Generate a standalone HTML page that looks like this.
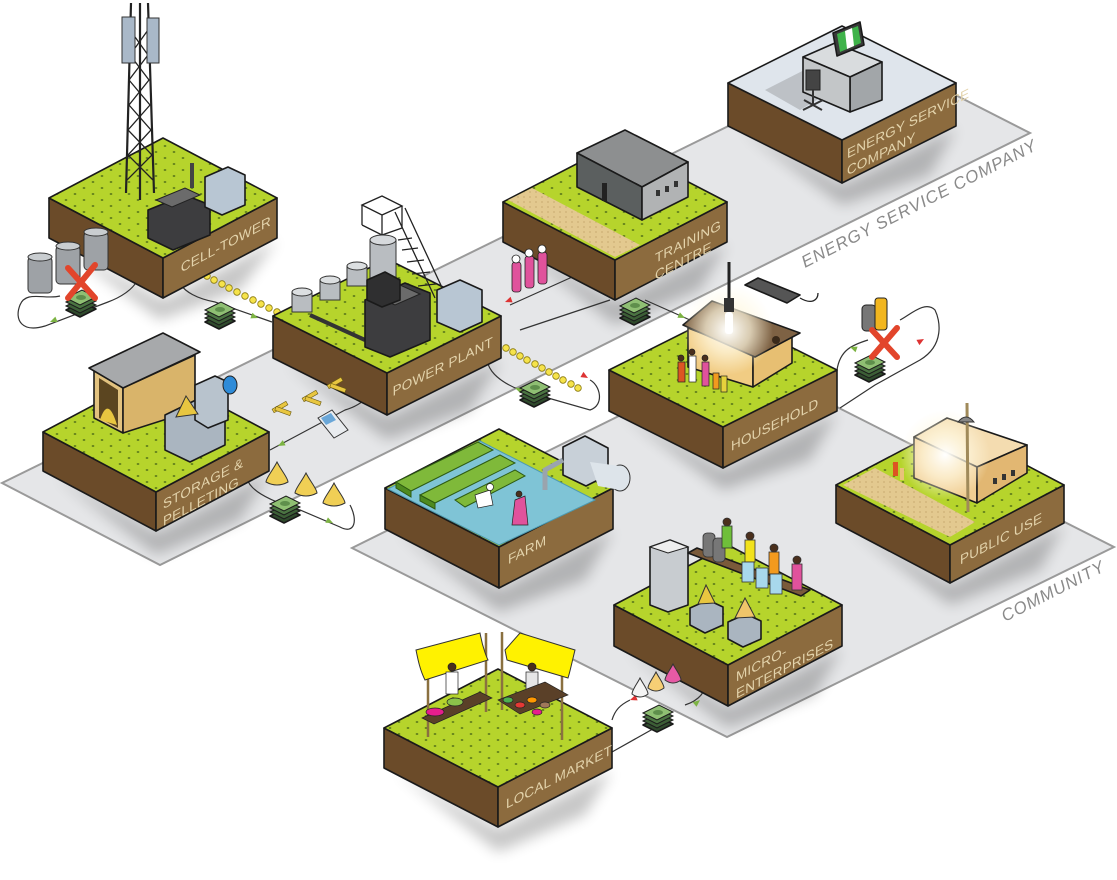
<!DOCTYPE html>
<html><head><meta charset="utf-8"><style>
html,body{margin:0;padding:0;background:#fff;}
svg{display:block;}
.lbl{font-family:"Liberation Sans",sans-serif;font-size:13.5px;fill:#e3d3ab;letter-spacing:0.2px;}
.pl{font-family:"Liberation Sans",sans-serif;font-size:17px;fill:#8a8a8a;font-style:italic;letter-spacing:1px;}
.e{stroke:#1a1a1a;stroke-width:1.6;stroke-linejoin:round;}
.con{fill:none;stroke:#333;stroke-width:1.2;}
</style></head><body>
<svg width="1117" height="880" viewBox="0 0 1117 880" xmlns="http://www.w3.org/2000/svg">
<defs>
<pattern id="gr" width="18" height="12" patternUnits="userSpaceOnUse">
<rect width="18" height="12" fill="#b6d42c"/>
<ellipse cx="3" cy="2" rx="1.4" ry="0.9" fill="#55721a"/>
<ellipse cx="12" cy="8" rx="1.4" ry="0.9" fill="#55721a"/>
</pattern>
<pattern id="sand" width="6" height="5" patternUnits="userSpaceOnUse">
<rect width="6" height="5" fill="#e3c98f"/><circle cx="2" cy="2" r="0.6" fill="#b8955a"/>
</pattern>
<filter id="bl" x="-20%" y="-20%" width="140%" height="160%"><feGaussianBlur stdDeviation="7"/></filter>
<radialGradient id="glow"><stop offset="0" stop-color="#fff" stop-opacity="1"/><stop offset="0.5" stop-color="#fff8e0" stop-opacity="0.7"/><stop offset="1" stop-color="#fff8e0" stop-opacity="0"/></radialGradient>
<g id="money">
<polygon points="0,10 16,2 30,9 14,17" fill="#2f4a2c" class="e" stroke-width="1"/>
<polygon points="0,6 16,-2 30,5 14,13" fill="#3c5e36" stroke="#1a1a1a" stroke-width="1"/>
<polygon points="0,2 16,-6 30,1 14,9" fill="#4b7442" stroke="#1a1a1a" stroke-width="1"/>
<polygon points="0,-2 16,-10 30,-3 14,5" fill="#8fbf73" stroke="#1a1a1a" stroke-width="1"/>
<ellipse cx="15" cy="-2.5" rx="5" ry="2.5" fill="#5f8f4c"/>
</g>
<g id="bead"><circle r="3.3" fill="#f6e34a" stroke="#8a7a10" stroke-width="0.8"/></g>
<g id="cone"><path d="M0,-14 C-4,-6 -11,2 -11,6 Q0,12 11,6 C11,2 4,-6 0,-14Z" fill="#f0cf55" stroke="#333" stroke-width="1"/></g>
<g id="ah"><polygon points="0,0 -7,-3 -7,3" fill="#7cb342"/></g>
<g id="ahr"><polygon points="0,0 -7,-3 -7,3" fill="#d33"/></g>
</defs>

<polygon points="2,483 160,565 1030,133 875,54" fill="#e5e6e8" stroke="#9a9a9a" stroke-width="2"/>
<polygon points="352,548 727,737 1114,547 738,357" fill="#e5e6e8" stroke="#9a9a9a" stroke-width="2"/>
<text class="pl" transform="translate(805,268) rotate(-27)">ENERGY SERVICE COMPANY</text>
<text class="pl" transform="translate(1005,622) rotate(-27)">COMMUNITY</text>

<g filter="url(#bl)" fill="#000" opacity="0.22">
<polygon points="60,245 163,300 277,240 240,290 160,320"/>
<polygon points="285,362 387,417 501,360 470,410 387,440"/>
<polygon points="55,475 156,533 269,473 240,520 156,555"/>
<polygon points="515,245 615,302 727,244 700,290 615,325"/>
<polygon points="740,128 842,185 956,128 930,175 842,205"/>
<polygon points="620,412 723,470 837,413 810,460 723,490"/>
<polygon points="396,530 499,590 613,530 585,580 499,612"/>
<polygon points="625,648 728,708 842,648 815,695 728,728"/>
<polygon points="395,770 498,829 612,770 585,815 498,852"/>
<polygon points="847,525 950,585 1064,525 1040,570 950,605"/>
</g>

<path class="con" d="M128,262 C150,272 135,292 108,302 L45,326 C22,333 14,320 20,305 C26,290 45,300 60,296"/>
<use href="#ah" transform="translate(50,322) rotate(158)"/>
<use href="#ahr" transform="translate(130,258) rotate(-30)"/>
<path class="con" d="M185,262 C170,275 178,295 215,302 L272,322"/>
<use href="#ah" transform="translate(258,318) rotate(20)"/>
<use href="#ahr" transform="translate(195,265) rotate(-160)"/>
<path class="con" d="M368,378 C378,392 362,405 345,410 L270,450"/>
<use href="#ah" transform="translate(278,446) rotate(152)"/>
<path class="con" d="M250,465 C240,480 250,495 300,510 L340,527 C355,535 358,520 350,505"/>
<use href="#ahr" transform="translate(260,470) rotate(-20)"/>
<use href="#ah" transform="translate(333,523) rotate(25)"/>
<path class="con" d="M490,345 C480,365 495,380 520,390 L590,410 C605,405 600,385 590,380"/>
<use href="#ah" transform="translate(515,388) rotate(200)"/>
<use href="#ahr" transform="translate(588,378) rotate(30)"/>
<path class="con" d="M510,305 L610,260 M520,330 L610,300"/>
<path class="con" d="M645,300 L690,320"/>
<use href="#ah" transform="translate(685,318) rotate(25)"/>
<use href="#ahr" transform="translate(505,302) rotate(160)"/>
<path class="con" d="M837,370 C840,350 852,345 868,340 M840,408 L875,385 L920,360 C945,345 940,320 935,310 C925,300 910,315 900,320"/>
<use href="#ah" transform="translate(850,347) rotate(200)"/>
<use href="#ahr" transform="translate(924,339) rotate(-30)"/>
<path class="con" d="M612,752 L660,725 M612,720 C615,710 620,705 630,700 M685,705 C700,700 710,690 705,670"/>
<use href="#ahr" transform="translate(630,700) rotate(160)"/>
<use href="#ah" transform="translate(700,700) rotate(-40)"/>

<g>
<use href="#bead" x="192" y="268"/><use href="#bead" x="199" y="272"/><use href="#bead" x="207" y="276"/><use href="#bead" x="214" y="280"/><use href="#bead" x="222" y="284"/><use href="#bead" x="229" y="288"/><use href="#bead" x="237" y="292"/><use href="#bead" x="245" y="296"/><use href="#bead" x="253" y="300"/><use href="#bead" x="261" y="304"/><use href="#bead" x="269" y="308"/><use href="#bead" x="277" y="312"/>
<use href="#bead" x="506" y="348"/><use href="#bead" x="513" y="352"/><use href="#bead" x="520" y="356"/><use href="#bead" x="527" y="360"/><use href="#bead" x="535" y="364"/><use href="#bead" x="542" y="368"/><use href="#bead" x="549" y="372"/><use href="#bead" x="556" y="376"/><use href="#bead" x="563" y="380"/><use href="#bead" x="571" y="384"/><use href="#bead" x="578" y="388"/>
</g>

<!-- Cell tower -->
<polygon class="e" points="49,198 163,258 163,298 49,238" fill="#6b4b29"/>
<polygon class="e" points="163,258 277,198 277,238 163,298" fill="#8c6b3e"/>
<polygon class="e" points="49,198 163,138 277,198 163,258" fill="url(#gr)"/>
<g stroke="#222" stroke-width="2.2" fill="none">
<line x1="131" y1="3" x2="126" y2="193"/><line x1="148" y1="3" x2="154" y2="193"/><line x1="140" y1="3" x2="140" y2="200"/>
<path d="M130,30 L148,55 L129,80 L150,105 L128,130 L152,155 L127,180" stroke-width="1.3"/>
<path d="M148,30 L130,55 L149,80 L129,105 L151,130 L128,155 L153,180" stroke-width="1.3"/>
</g>
<rect x="122" y="17" width="13" height="46" fill="#a9b8c8" stroke="#333"/>
<rect x="147" y="18" width="12" height="45" fill="#a9b8c8" stroke="#333"/>
<polygon class="e" points="148,210 185,195 210,205 210,235 173,250 148,238" fill="#3d3d3f"/>
<polygon points="156,200 185,188 200,195 172,207" fill="#6b6b6b" stroke="#222"/>
<rect x="190" y="163" width="4" height="25" fill="#444"/>
<polygon class="e" points="205,177 228,167 245,175 245,205 222,215 205,207" fill="#b8c6d3"/>
<g stroke="#333" stroke-width="1">
<rect x="28" y="257" width="24" height="36" rx="4" fill="#9ea2a6"/><ellipse cx="40" cy="257" rx="12" ry="4" fill="#c9cdd0"/>
<rect x="56" y="246" width="24" height="38" rx="4" fill="#9ea2a6"/><ellipse cx="68" cy="246" rx="12" ry="4" fill="#c9cdd0"/>
<rect x="84" y="232" width="24" height="38" rx="4" fill="#9ea2a6"/><ellipse cx="96" cy="232" rx="12" ry="4" fill="#c9cdd0"/>
</g>
<use href="#money" x="66" y="300"/>
<path d="M68,268 L95,298 M95,265 L68,298" stroke="#e2452b" stroke-width="6" stroke-linecap="round"/>
<use href="#money" x="205" y="312"/>
<text class="lbl" transform="translate(163,258) skewY(-27.8)"><tspan x="108" y="24" text-anchor="end">CELL-TOWER</tspan></text>

<!-- Training -->
<polygon class="e" points="503,202 615,260 615,300 503,242" fill="#6b4b29"/>
<polygon class="e" points="615,260 727,202 727,242 615,300" fill="#8c6b3e"/>
<polygon class="e" points="503,202 615,144 727,202 615,260" fill="url(#gr)"/>
<polygon points="508,200 532,188 640,245 615,257" fill="url(#sand)"/>
<polygon class="e" points="577,153 625,130 688,162 642,187" fill="#8d8f90"/>
<polygon class="e" points="577,153 642,187 642,220 577,187" fill="#5b5f5f"/>
<polygon class="e" points="642,187 688,162 688,197 642,220" fill="#b1b3b4"/>
<rect x="602" y="183" width="5" height="18" fill="#222"/>
<g fill="#333"><rect x="656" y="190" width="4" height="6"/><rect x="665" y="186" width="4" height="6"/><rect x="674" y="181" width="4" height="6"/></g>
<text class="lbl" transform="translate(615,260) skewY(-27.4)"><tspan x="40" y="24">TRAINING</tspan><tspan x="40" y="41">CENTRE</tspan></text>
<g stroke="#222" stroke-width="0.8">
<rect x="512" y="262" width="9" height="30" rx="3" fill="#e0529c"/><circle cx="516" cy="259" r="4" fill="#fff"/>
<rect x="525" y="256" width="9" height="32" rx="3" fill="#e0529c"/><circle cx="529" cy="253" r="4" fill="#fff"/>
<rect x="538" y="252" width="9" height="32" rx="3" fill="#e0529c"/><circle cx="542" cy="249" r="4" fill="#fff"/>
</g>
<use href="#money" x="620" y="308"/>

<!-- ESCO -->
<polygon class="e" points="728,83 842,140 842,183 728,126" fill="#6b4b29"/>
<polygon class="e" points="842,140 956,83 956,126 842,183" fill="#8c6b3e"/>
<polygon class="e" points="728,83 842,26 956,83 842,140" fill="#dfe5ec"/>
<polygon points="765,90 820,62 850,80 800,110" fill="#aeb2b6" opacity="0.7"/>
<polygon class="e" points="803,57 835,43 882,62 850,77" fill="#d9dcde"/>
<polygon class="e" points="850,77 882,62 882,100 850,112" fill="#a2a6a9"/>
<polygon class="e" points="803,57 850,77 850,112 803,92" fill="#c3c6c8"/>
<polygon class="e" points="833,33 860,22 864,45 837,56" fill="#3a3a3a"/>
<polygon points="837,34 858,26 861,43 840,52" fill="#3fb34a"/><polygon points="845,31 852,28 854,46 847,49" fill="#fff"/>
<rect x="806" y="70" width="14" height="20" fill="#444" stroke="#222"/><path d="M813,90 v15 M803,110 L823,100 M804,100 L822,110" stroke="#333" stroke-width="2"/>
<text class="lbl" transform="translate(842,140) skewY(-26.6)"><tspan x="5" y="21">ENERGY SERVICE</tspan><tspan x="5" y="38">COMPANY</tspan></text>

<!-- Power plant -->
<polygon class="e" points="273,316 387,373 387,415 273,358" fill="#6b4b29"/>
<polygon class="e" points="387,373 501,316 501,358 387,415" fill="#8c6b3e"/>
<polygon class="e" points="273,316 387,259 501,316 387,373" fill="url(#gr)"/>
<g stroke="#222" stroke-width="1.3" fill="none">
<path d="M362,205 L382,196 L402,206 L382,215Z M362,205 V225 M402,206 V228 M382,215 V235 M362,225 L382,235 L402,228"/>
<path d="M395,212 L435,298 M405,208 L445,294 M398,240 L412,238 M402,250 L418,248 M407,262 L424,260 M412,274 L430,272 M418,286 L436,284"/>
</g>
<g stroke="#333" stroke-width="1">
<rect x="370" y="240" width="26" height="48" fill="#b9bdc1"/><ellipse cx="383" cy="240" rx="13" ry="5" fill="#d6d9dc"/>
<rect x="292" y="292" width="20" height="20" fill="#b9bdc1"/><ellipse cx="302" cy="292" rx="10" ry="4" fill="#dcdfe1"/>
<rect x="320" y="280" width="20" height="20" fill="#b9bdc1"/><ellipse cx="330" cy="280" rx="10" ry="4" fill="#dcdfe1"/>
<rect x="347" y="266" width="20" height="20" fill="#b9bdc1"/><ellipse cx="357" cy="266" rx="10" ry="4" fill="#dcdfe1"/>
</g>
<line x1="310" y1="315" x2="365" y2="340" stroke="#333" stroke-width="4"/>
<polygon class="e" points="365,300 405,283 430,293 430,340 390,357 365,347" fill="#3d3d3f"/>
<polygon points="375,296 400,285 420,294 395,305" fill="#6b6b6b" stroke="#222"/>
<polygon class="e" points="367,280 385,272 400,280 400,300 382,307 367,300" fill="#2f2f30"/>
<polygon class="e" points="437,290 460,280 482,290 482,322 460,332 437,322" fill="#b8c6d3"/>
<text class="lbl" transform="translate(387,373) skewY(-26.6)"><tspan x="106" y="26" text-anchor="end">POWER PLANT</tspan></text>

<g fill="#e8c640" stroke="#6a5a10" stroke-width="0.6">
<rect x="272" y="405" width="16" height="4" transform="rotate(-30 280 407)"/><rect x="275" y="409" width="16" height="4" transform="rotate(20 283 411)"/>
<rect x="302" y="394" width="16" height="4" transform="rotate(-30 310 396)"/><rect x="305" y="399" width="16" height="4" transform="rotate(20 313 401)"/>
<rect x="327" y="381" width="16" height="4" transform="rotate(-30 335 383)"/><rect x="330" y="386" width="16" height="4" transform="rotate(20 338 388)"/>
</g>
<polygon points="318,418 332,410 348,430 334,438" fill="#e9ecef" stroke="#333"/><polygon points="321,418 331,413 336,420 326,425" fill="#6aa7d8"/>

<!-- Storage -->
<polygon class="e" points="43,432 156,492 156,531 43,471" fill="#6b4b29"/>
<polygon class="e" points="156,492 269,432 269,471 156,531" fill="#8c6b3e"/>
<polygon class="e" points="43,432 156,372 269,432 156,492" fill="url(#gr)"/>
<polygon class="e" points="94,368 123,388 123,433 94,418" fill="#e2c27f"/>
<polygon points="99,378 118,390 118,428 99,418" fill="#5b4520"/>
<path d="M100,420 Q108,395 117,425Z" fill="#e8c640"/>
<polygon class="e" points="123,388 195,355 195,410 123,433" fill="#d9b46a"/>
<polygon class="e" points="89,368 163,333 200,352 123,388" fill="#a7a9ab"/>
<polygon class="e" points="165,415 200,398 225,410 225,445 190,462 165,450" fill="#aab5c0"/>
<polygon class="e" points="195,385 215,376 228,382 228,420 208,428 195,420" fill="#b8c3cd"/>
<ellipse cx="230" cy="385" rx="7" ry="9" fill="#2e8bd8" stroke="#222"/>
<path d="M176,417 L186,396 L198,414Z" fill="#e8c640" stroke="#333"/>
<text class="lbl" transform="translate(156,492) skewY(-28)"><tspan x="7" y="21">STORAGE &amp;</tspan><tspan x="7" y="38">PELLETING</tspan></text>
<use href="#cone" x="277" y="476"/><use href="#cone" x="306" y="487"/><use href="#cone" x="334" y="497"/>
<use href="#money" x="270" y="506"/>

<!-- Household -->
<polygon class="e" points="609,370 723,427 723,468 609,411" fill="#6b4b29"/>
<polygon class="e" points="723,427 837,370 837,411 723,468" fill="#8c6b3e"/>
<polygon class="e" points="609,370 723,313 837,370 723,427" fill="url(#gr)"/>
<polygon class="e" points="688,328 753,353 753,387 688,367" fill="#f1cc83"/>
<polygon class="e" points="753,353 792,333 792,363 753,387" fill="#e7bf72"/>
<polygon class="e" points="683,325 712,301 800,333 755,357" fill="#7e6244"/>
<circle cx="776" cy="340" r="4" fill="#3a2a1a"/>
<circle cx="728" cy="330" r="45" fill="url(#glow)"/>
<line x1="729" y1="262" x2="729" y2="300" stroke="#222" stroke-width="3"/>
<rect x="724" y="298" width="10" height="14" fill="#333"/><rect x="725" y="312" width="8" height="22" rx="3" fill="#fff"/>
<polygon class="e" points="745,285 758,278 800,295 787,303" fill="#555"/>
<path d="M800,298 C812,305 818,300 818,293" stroke="#222" fill="none" stroke-width="1.3"/>
<g stroke="#222" stroke-width="0.7">
<rect x="678" y="362" width="7" height="20" fill="#d52" /><circle cx="681" cy="358" r="3" fill="#4a2f1c"/>
<rect x="689" y="356" width="7" height="26" fill="#fff"/><circle cx="692" cy="352" r="3" fill="#4a2f1c"/>
<rect x="702" y="362" width="7" height="24" fill="#e0529c"/><circle cx="705" cy="358" r="3" fill="#4a2f1c"/>
<rect x="713" y="373" width="6" height="16" fill="#f39a1e"/><rect x="721" y="376" width="6" height="16" fill="#e6d23c"/>
</g>
<text class="lbl" transform="translate(723,427) skewY(-26.6)"><tspan x="8" y="28">HOUSEHOLD</tspan></text>
<rect x="862" y="305" width="14" height="26" rx="4" fill="#777" stroke="#222"/>
<rect x="875" y="298" width="12" height="32" rx="3" fill="#f2b61f" stroke="#222"/>
<use href="#money" x="855" y="365"/>
<path d="M872,330 L897,357 M897,328 L872,357" stroke="#e2452b" stroke-width="6" stroke-linecap="round"/>
<use href="#money" x="520" y="390"/>

<!-- Farm -->
<polygon class="e" points="385,488 499,547 499,588 385,529" fill="#6b4b29"/>
<polygon class="e" points="499,547 613,488 613,529 499,588" fill="#8c6b3e"/>
<polygon class="e" points="385,488 499,429 613,488 499,547" fill="url(#gr)"/>
<polygon points="388,489 480,441 595,500 499,545" fill="#7fc4d6" stroke="#4d9ab0"/>
<g stroke="#2d5a12" stroke-width="1">
<polygon points="396,482 478,442 493,450 411,491" fill="#7fb93a"/>
<polygon points="396,482 411,491 411,497 396,488" fill="#4e8a1f"/>
<polygon points="420,495 500,455 515,463 435,503" fill="#7fb93a"/>
<polygon points="420,495 435,503 435,509 420,501" fill="#4e8a1f"/>
<polygon points="455,500 515,470 525,476 465,507" fill="#7fb93a"/>
</g>
<polygon class="e" points="563,447 585,436 608,448 608,475 586,486 563,475" fill="#c8d0d8"/>
<ellipse cx="620" cy="478" rx="10" ry="13" fill="#dde4ea" stroke="#333"/>
<polygon points="590,462 620,466 620,490 598,486" fill="#dde4ea"/>
<path d="M563,460 L545,470 V490" stroke="#9aa4ad" stroke-width="5" fill="none"/>
<g stroke="#222" stroke-width="0.7"><path d="M475,495 L490,490 L493,505 L478,508Z" fill="#fff"/><circle cx="490" cy="487" r="3.5" fill="#fff"/>
<path d="M515,500 L525,496 L528,525 L512,525Z" fill="#e0529c"/><circle cx="519" cy="494" r="3" fill="#4a2f1c"/></g>
<text class="lbl" transform="translate(499,547) skewY(-27.4)"><tspan x="9" y="22">FARM</tspan></text>

<!-- Public use -->
<polygon class="e" points="836,485 950,545 950,583 836,523" fill="#6b4b29"/>
<polygon class="e" points="950,545 1064,485 1064,523 950,583" fill="#8c6b3e"/>
<polygon class="e" points="836,485 950,425 1064,485 950,545" fill="url(#gr)"/>
<polygon points="843,485 875,468 975,522 950,537" fill="url(#sand)"/>
<polygon class="e" points="914,437 947,418 1027,445 977,467" fill="#f4dcb0"/>
<polygon class="e" points="914,437 977,467 977,503 914,478" fill="#f0cd92"/>
<polygon class="e" points="977,467 1027,445 1027,473 977,503" fill="#e2b772"/>
<g fill="#333"><rect x="993" y="478" width="4" height="6"/><rect x="1002" y="474" width="4" height="6"/><rect x="1011" y="470" width="4" height="6"/></g>
<circle cx="945" cy="455" r="45" fill="url(#glow)"/>
<line x1="967" y1="403" x2="968" y2="512" stroke="#a08a5a" stroke-width="3"/>
<path d="M958,422 Q966,412 974,422Z" fill="#888" stroke="#333"/>
<rect x="893" y="462" width="5" height="14" fill="#d52"/><rect x="900" y="468" width="4" height="12" fill="#e9c27a"/>
<text class="lbl" transform="translate(950,545) skewY(-27.7)"><tspan x="10" y="25">PUBLIC USE</tspan></text>

<!-- Micro enterprises -->
<polygon class="e" points="614,605 728,665 728,706 614,646" fill="#6b4b29"/>
<polygon class="e" points="728,665 842,605 842,646 728,706" fill="#8c6b3e"/>
<polygon class="e" points="614,605 728,545 842,605 728,665" fill="url(#gr)"/>
<polygon class="e" points="650,547 670,540 688,547 688,605 668,612 650,605" fill="#c8ccd0"/>
<polygon points="650,547 670,540 688,547 668,553" fill="#eee" stroke="#222"/>
<polygon class="e" points="688,553 697,548 810,590 801,596" fill="#7a5a3a"/>
<g stroke="#333" stroke-width="0.8">
<rect x="703" y="533" width="12" height="24" rx="4" fill="#777"/><rect x="713" y="538" width="12" height="24" rx="4" fill="#777"/>
<rect x="722" y="526" width="10" height="22" fill="#6fbf3a"/><circle cx="727" cy="522" r="4" fill="#4a2f1c"/>
<rect x="745" y="540" width="10" height="22" fill="#f2e21c"/><circle cx="750" cy="536" r="4" fill="#4a2f1c"/>
<rect x="769" y="552" width="10" height="22" fill="#f39a1e"/><circle cx="774" cy="548" r="4" fill="#4a2f1c"/>
<rect x="792" y="564" width="10" height="26" fill="#e0529c"/><circle cx="797" cy="560" r="4" fill="#4a2f1c"/>
<rect x="742" y="562" width="12" height="20" fill="#a8d8ec"/><rect x="756" y="568" width="12" height="20" fill="#a8d8ec"/><rect x="770" y="574" width="12" height="20" fill="#a8d8ec"/>
</g>
<polygon class="e" points="690,608 708,600 723,607 723,625 705,633 690,625" fill="#aab5c0"/>
<polygon class="e" points="728,622 746,614 761,621 761,639 743,647 728,639" fill="#aab5c0"/>
<path d="M698,604 L706,585 L715,603Z" fill="#e8c640" stroke="#333"/><path d="M735,618 L745,598 L755,617Z" fill="#f0c56a" stroke="#333"/>
<text class="lbl" transform="translate(728,665) skewY(-27.8)"><tspan x="8" y="21">MICRO-</tspan><tspan x="8" y="38">ENTERPRISES</tspan></text>
<path d="M640,678 C637,684 632,690 632,694 Q640,700 648,694 C648,690 643,684 640,678Z" fill="#f4f4f4" stroke="#333"/>
<path d="M656,672 C653,678 648,684 648,688 Q656,694 664,688 C664,684 659,678 656,672Z" fill="#f6cf75" stroke="#333"/>
<path d="M673,664 C670,670 665,676 665,680 Q673,686 681,680 C681,676 676,670 673,664Z" fill="#e65aa5" stroke="#333"/>
<use href="#money" x="643" y="715"/>

<!-- Local market -->
<polygon class="e" points="384,728 498,787 498,827 384,768" fill="#6b4b29"/>
<polygon class="e" points="498,787 612,728 612,768 498,827" fill="#8c6b3e"/>
<polygon class="e" points="384,728 498,669 612,728 498,787" fill="url(#gr)"/>
<g stroke="#8a7040" stroke-width="2.5">
<line x1="428" y1="660" x2="428" y2="737"/><line x1="486" y1="633" x2="486" y2="712"/><line x1="502" y1="632" x2="502" y2="710"/><line x1="562" y1="660" x2="562" y2="740"/>
</g>
<path d="M416,650 L480,633 C483,650 488,660 488,660 L425,680 C420,670 418,660 416,650Z" fill="#fff200" stroke="#333"/>
<path d="M505,650 L520,633 L575,650 C572,662 570,672 568,678 L507,660Z" fill="#fff200" stroke="#333"/>
<g stroke="#222" stroke-width="0.7">
<rect x="446" y="672" width="12" height="22" fill="#fff"/><circle cx="452" cy="667" r="4" fill="#4a2f1c"/>
<rect x="526" y="672" width="12" height="24" fill="#e6e6e6"/><circle cx="532" cy="667" r="4" fill="#4a2f1c"/>
<polygon points="422,718 480,692 492,698 434,724" fill="#5a4028"/>
<polygon points="498,700 545,682 568,695 520,714" fill="#5a4028"/>
<ellipse cx="435" cy="712" rx="9" ry="4" fill="#e61e8c"/><ellipse cx="455" cy="702" rx="8" ry="4" fill="#8bc34a"/>
<ellipse cx="508" cy="700" rx="5" ry="3" fill="#4caf50"/><ellipse cx="520" cy="705" rx="5" ry="3" fill="#e53935"/><ellipse cx="532" cy="700" rx="5" ry="3" fill="#ff9800"/><ellipse cx="545" cy="705" rx="5" ry="3" fill="#a0785a"/><ellipse cx="537" cy="712" rx="5" ry="3" fill="#e61e8c"/>
</g>
<text class="lbl" transform="translate(498,787) skewY(-27.4)"><tspan x="8" y="26">LOCAL MARKET</tspan></text>
</svg>
</body></html>
